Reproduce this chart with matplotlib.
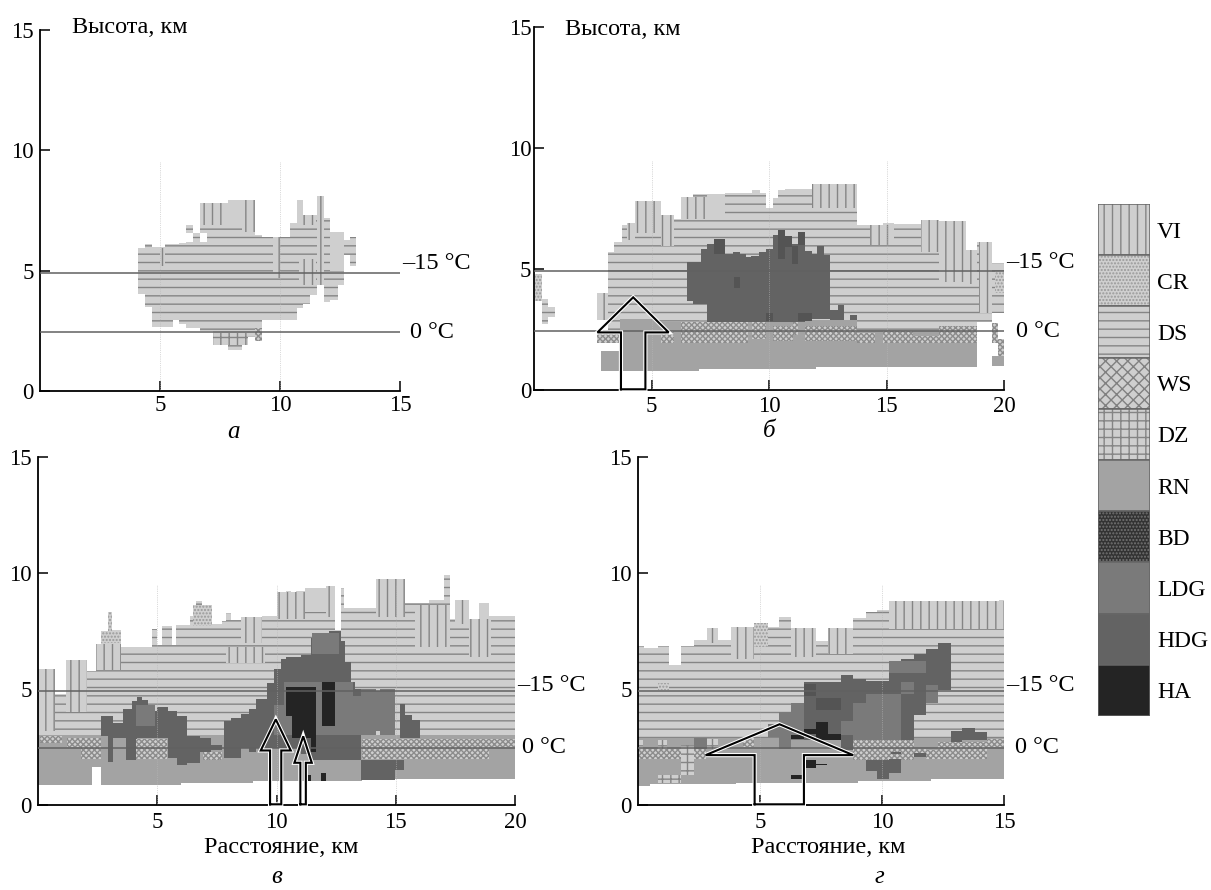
import matplotlib
matplotlib.use("Agg")
import matplotlib.pyplot as plt
import matplotlib.patheffects as pe

plt.rcParams['font.family'] = ['Liberation Serif', 'DejaVu Serif']
plt.rcParams['hatch.linewidth'] = 1.0

CLASS_NAMES = ['VI', 'CR', 'DS', 'WS', 'DZ', 'RN', 'BD', 'LDG', 'HDG', 'HA']
TICKS_15 = [5, 10, 15]
TICKS_20 = [5, 10, 15, 20]
HEIGHT_TICKS = [0, 5, 10, 15]
ISOTHERMS = [4.9, 2.45]

# Each row: distance from, distance to, height from, height to (km)
A_DS = [(4.07,4.38,4.05,5.93),(4.38,4.65,3.47,6.1),(4.65,5.2,2.67,6.0),(5.2,5.53,2.67,6.1),
        (5.53,5.8,2.97,6.1),(5.8,6.1,2.78,6.17),(6.1,6.67,2.6,6.2),(6.67,7.2,2.5,7.8),
        (7.2,7.85,1.9,7.8),(7.85,8.4,1.7,7.93),(8.4,8.68,1.9,7.93),(8.68,8.96,2.25,7.93),
        (8.96,9.26,2.08,6.5),(9.26,9.93,2.97,6.4),(9.93,10.4,2.97,6.38),(10.4,10.7,2.97,6.97),
        (10.7,10.97,3.43,7.93),(10.97,11.25,3.6,7.2),(11.25,11.53,3.98,7.3),(11.53,11.83,4.4,8.1),
        (11.83,12.1,3.7,7.2),(12.1,12.4,3.78,6.6),(12.4,12.67,4.4,6.6),(12.67,12.9,5.65,6.28),
        (12.9,13.15,5.2,6.4),(6.1,6.36,6.55,6.9),(6.36,6.67,6.2,6.55)]
A_BLANK = [(6.67,6.95,6.2,6.55)]
A_VI = [(6.67,7.85,6.9,7.8),(8.4,8.96,6.6,7.93),(10.7,10.97,6.97,7.93),(11.53,11.83,4.4,8.1),
        (9.7,10.0,4.7,6.38),(5.0,5.2,5.2,5.95),(10.97,11.5,6.9,7.3),(10.8,11.5,4.4,5.5)]
A_PLAIN = [(7.85,8.4,6.95,7.93),(12.1,12.67,5.0,6.6)]
A_DZ = [(7.2,8.68,1.9,2.4)]
A_WS = [(8.96,9.26,2.08,2.6)]

B_DS = [(3.17,3.41,2.4,5.72),(3.41,3.73,2.4,6.1),(3.73,3.97,2.4,6.8),(3.97,4.29,2.4,6.9),
        (4.29,5.41,2.4,7.83),(5.41,5.68,2.4,7.07),(5.68,5.97,2.4,7.24),(5.97,6.24,2.4,7.07),
        (6.24,6.45,2.4,7.93),(6.45,6.77,2.4,7.97),(6.77,8.13,2.4,8.08),(8.13,9.28,2.4,8.13),
        (9.28,9.6,2.4,8.25),(9.6,9.86,2.4,8.13),(9.86,10.16,2.4,7.51),(10.16,10.37,2.4,7.94),
        (10.37,10.69,2.4,8.25),(10.69,11.81,2.4,8.31),(11.81,13.25,2.4,8.45),(13.25,13.73,2.4,8.52),
        (13.73,14.85,2.4,6.82),(14.85,15.33,2.4,6.9),(15.33,16.45,2.4,6.86),(16.45,17.25,2.4,7.04),
        (17.25,17.81,2.4,7.0),(17.81,18.13,2.4,6.8),(18.13,18.37,2.4,6.73),(18.37,18.85,2.4,5.8),
        (18.85,19.22,2.8,6.1),(19.22,19.49,2.8,5.66),(19.49,20,3.2,5.25),
        (0.32,0.61,2.72,3.78),(0.61,0.88,3.0,3.41)]
B_VI = [(2.69,3.17,2.9,4.0),(3.97,4.29,6.2,6.9),(4.29,5.41,6.5,7.83),(5.41,5.97,5.95,7.24),
        (6.24,7.36,7.07,7.97),(11.81,13.73,7.5,8.5),(14.29,15.33,6.0,6.82),(16.45,17.25,5.7,7.04),
        (17.25,18.37,4.45,7.0),(18.92,19.5,3.2,6.1),(18.37,18.85,4.4,5.8)]
B_PLAIN = [(7.36,8.13,7.2,8.08)]
B_CR = [(0.05,0.32,3.69,4.79),(19.6,20,4.0,4.9)]
B_RN = [(2.85,4.29,0.8,1.62),(3.65,5.1,1.6,2.95),(4.29,7,0.8,2.8),(7,12,0.87,2.9),(12,13.73,0.95,2.9),
        (13.73,18.85,0.95,2.5),(19.49,20,1.0,1.4)]
B_WS = [(2.69,3.6,1.96,2.37),(5.41,5.97,1.96,2.44),(6.24,9.1,1.96,2.79),(9.28,9.86,2.1,2.79),
        (10.16,11.0,2.03,2.65),(11.0,11.25,2.27,2.79),(11.52,13.73,2.03,2.65),(13.73,14.53,1.96,2.37),
        (14.85,16.13,1.96,2.44),(16.13,17.25,1.96,2.24),(17.25,18.85,1.96,2.65),(19.5,19.75,1.96,2.75),
        (19.75,20,1.4,2.1)]
B_HDG = [(6.53,6.77,3.69,5.3),(6.77,7.09,3.55,5.28),(7.09,7.36,3.55,5.83),(7.36,7.65,2.82,6.04),
         (7.65,8.13,2.82,6.22),(8.13,8.45,2.82,5.62),(8.45,8.77,2.82,5.72),(8.77,9.01,2.82,5.62),
         (9.01,9.25,2.82,5.48),(9.25,9.57,2.82,5.55),(9.57,9.86,2.82,5.72),(9.86,10.16,2.82,5.83),
         (10.16,10.4,2.82,6.41),(10.4,10.69,2.82,6.63),(10.69,10.96,2.82,6.38),(10.96,11.25,2.82,6.04),
         (11.25,11.52,2.82,6.52),(11.52,11.81,2.93,5.76),(11.81,12.05,2.93,5.62),(12.05,12.32,2.93,5.94),
         (12.32,12.61,2.93,5.58),(12.61,12.93,2.9,3.3),(12.93,13.2,2.9,3.51),(13.44,13.73,2.9,3.09)]
B_DARK = [(7.65,8.13,5.62,6.22),(10.4,10.69,5.4,6.6),(10.69,10.96,5.9,6.38),(10.96,11.25,5.2,5.95),
          (11.25,11.52,6.0,6.52),(8.5,8.77,4.2,4.65),(9.86,10.16,2.85,3.2),(11.25,11.81,2.85,3.2)]

C_DS = [(0,.32,2.9,5.87),(.32,.63,2.9,5.36),(.63,1.18,2.9,4.78),(1.18,1.66,2.9,5.66),(1.66,2.05,2.9,6.24),
        (2.05,2.44,2.9,5.77),(2.44,2.65,2.9,6.5),(2.65,2.92,2.9,7.52),(2.92,3.11,2.9,8.31),(3.11,3.5,2.9,7.55),
        (3.5,4.76,2.9,6.82),(4.76,4.97,2.9,7.58),(4.97,5.2,2.9,6.9),(5.2,5.6,2.9,7.7),(5.6,5.8,2.9,6.9),
        (5.8,6.39,2.9,7.74),(6.39,6.62,2.9,8.13),(6.62,6.86,2.9,8.79),(6.86,7.29,2.9,8.35),(7.29,7.73,2.9,7.81),
        (7.73,7.89,2.9,7.92),(7.89,8.08,2.9,8.28),(8.08,8.52,2.9,7.99),(8.52,9.15,2.9,7.87),(9.15,9.38,2.9,8.06),
        (9.38,10.02,2.9,8.16),(10.02,10.17,2.9,8.6),(10.17,10.41,2.9,8.86),(10.41,10.6,2.9,9.23),(10.6,10.8,2.9,8.86),
        (10.8,11.2,2.9,9.23),(11.2,12.07,2.9,9.34),(12.07,12.46,2.9,9.45),(12.46,12.85,2.9,9.34),(12.85,14.16,2.9,8.5),
        (14.16,14.35,2.9,9.49),(14.35,14.98,2.9,9.66),(14.98,15.17,2.9,9.74),(15.17,15.38,2.9,9.33),(15.38,16.4,2.9,8.69),
        (16.4,17.03,2.9,8.82),(17.03,17.27,2.9,9.91),(17.27,17.5,2.9,8.02),(17.5,18.06,2.9,8.82),(18.06,18.49,2.9,8.02),
        (18.49,18.93,2.9,8.69),(18.93,20,2.9,8.16)]
C_BLANK = [(12.46,12.7,7.55,9.4)]
C_VI = [(0,.7,3.2,5.87),(1.18,2.05,4.0,6.24),(2.44,3.5,5.8,6.95),(7.9,9.5,6.1,6.8),(8.52,9.38,7.0,8.1),
        (10.02,11.2,8.0,9.2),(12.07,12.46,8.1,9.45),(14.16,15.38,8.1,9.74),(15.8,17.27,6.8,8.6),
        (17.5,18.06,7.8,8.82),(18.06,19.0,6.4,8.0)]
C_PLAIN = [(11.2,12.07,8.3,9.34),(18.49,18.93,8.2,8.69)]
C_CR = [(2.65,3.5,6.97,7.48),(2.92,3.11,7.48,8.31),(6.5,7.3,7.7,8.6)]
C_RN = [(0,2.25,.85,3.0),(2.25,2.65,1.62,3.0),(2.65,6,.87,3.0),(6,9,.95,3.0),(9,13.6,1.02,3.0),
        (13.6,17,1.1,3.0),(17,20,1.14,3.0)]
C_WS = [(.1,1.0,2.67,2.96),(1.2,1.8,2.5,2.89),(1.8,2.65,2.0,2.89),(3.9,5.4,1.98,2.86),(6.9,7.7,1.94,2.3),
        (13.6,18.9,1.98,2.86),(18.9,20,2.5,2.86)]
C_HDG = [(2.65,2.92,2.96,3.83),(2.92,3.15,1.87,3.83),(3.15,3.55,2.89,3.54),(3.55,3.94,2.89,4.13),(3.7,4.1,1.94,2.89),
         (3.94,4.13,2.86,4.49),(4.13,4.38,2.89,4.66),(4.38,4.61,2.89,4.52),(4.61,4.97,2.89,4.05),(4.97,5.44,2.89,4.23),
         (5.44,5.84,2.01,4.05),(5.84,6.23,1.72,3.83),(6.23,6.78,1.79,2.96),(6.78,7.26,2.3,2.89),(7.26,7.73,2.38,2.59),
         (7.81,8.08,2.04,3.62),(8.08,8.52,2.01,3.76),(8.52,8.83,2.45,3.91),(8.83,9.15,2.3,4.13),(9.15,9.62,2.45,4.56),
         (9.62,9.9,2.45,5.25),(9.9,10.17,2.45,5.87),(10.17,10.41,2.45,6.31),(10.41,11.04,2.45,6.38),(11.04,11.43,2.2,6.46),
         (11.43,11.9,1.94,7.19),(11.9,12.2,1.94,6.9),(12.2,12.7,1.94,7.48),(12.7,12.87,1.94,7.08),(12.87,13.14,1.94,6.17),
         (13.14,13.3,1.94,5.29),(13.3,13.55,1.94,5.0),(15.17,15.38,2.89,4.35),(15.38,15.7,2.89,3.87),(15.7,16.0,2.89,3.65),
         (13.55,14.98,1.06,1.94),(14.98,15.35,1.5,1.94)]
C_LDG = [(11.5,12.6,6.5,7.4),(10.3,13.2,4.7,5.3),(10.3,13.55,3.0,4.7),(13.55,14.16,3.0,5.0),(14.16,14.35,3.2,4.9),
         (14.35,14.98,3.0,5.0),(9.9,10.4,3.0,4.3),(4.1,4.9,3.4,4.3)]
C_HA = [(10.41,10.65,3.83,5.07),(10.65,11.64,2.89,5.07),(11.43,11.64,2.27,2.96),(11.91,12.46,3.4,5.29),
        (11.3,11.44,1.03,1.31),(11.88,12.07,1.03,1.4)]

D_DS = [(0,.26,2.45,6.86),(.26,.8,2.45,6.78),(.8,1.28,2.45,6.86),(1.28,1.76,2.45,6.03),(1.76,2.31,2.45,6.86),
        (2.31,2.81,2.45,7.1),(2.81,3.26,2.45,7.62),(3.26,3.81,2.45,7.1),(3.81,4.31,2.45,7.19),(4.31,4.76,2.45,7.68),
        (4.76,5.31,2.45,7.83),(5.31,5.78,2.45,7.68),(5.78,6.29,2.45,8.09),(6.29,6.81,2.45,7.62),(6.81,7.28,2.45,7.43),
        (7.28,7.8,2.45,7.07),(7.8,8.31,2.45,7.51),(8.31,8.81,2.45,7.62),(8.81,9.33,2.45,8.06),(9.33,9.81,2.45,8.3),
        (9.81,10.76,2.45,8.41),(10.76,11.79,2.45,8.52),(11.79,13.29,2.45,8.59),(13.29,14.79,2.45,8.74),(14.79,15,2.45,8.84)]
D_VI = [(2.81,3.26,7.0,7.62),(3.81,4.76,6.3,7.68),(6.29,7.28,6.4,7.62),(7.8,8.81,6.5,7.62),(10.29,15,7.6,8.8)]
D_CR = [(4.76,5.31,6.8,7.83),(.8,1.28,4.95,5.25)]
D_RN = [(0,.5,.84,2.9),(.5,4,.92,2.9),(4,9,.96,2.9),(9,12,1.03,2.9),(12,15,1.1,2.9)]
D_WS = [(0,2.77,1.97,2.41),(4.31,4.76,2.51,2.87),(8.81,11.31,1.93,2.8),(11.31,11.79,2.07,2.43),
        (11.79,12.31,2.0,2.36),(12.31,14.31,1.97,2.72),(14.31,15,2.51,2.84)]
D_DZ = [(0,.2,2.4,2.8),(.8,1.2,2.4,2.8),(1.76,2.3,1.28,2.58),(.8,1.76,.96,1.28),(2.81,3.26,2.43,2.83)]
D_HDG = [(6.81,8.31,2.8,5.3),(8.31,8.81,2.36,5.59),(8.81,9.33,2.8,5.41),(9.33,10.29,2.8,5.33),(10.29,10.76,2.8,6.2),
         (10.76,11.31,2.8,6.3),(11.31,11.79,3.88,6.52),(11.79,12.31,4.39,6.71),(12.31,12.81,4.97,7.0),
         (9.33,9.81,1.46,1.93),(9.81,10.29,1.13,1.93),(10.29,10.76,1.38,2.0),(11.31,11.79,2.07,2.25),(10.35,10.76,2.2,2.27),
         (12.81,13.29,2.72,3.19),(13.29,13.81,2.8,3.3),(13.81,14.31,2.8,3.16)]
D_LDG = [(2.31,2.81,2.43,2.87),(5.31,5.78,2.94,3.48),(5.78,6.29,2.43,3.99),(6.29,6.81,2.8,4.39),(8.81,10.76,2.8,4.39),
         (9.33,10.76,4.39,4.8),(10.76,11.31,4.8,5.3),(10.29,11.8,5.7,6.2),(11.79,12.31,4.39,5.19),(8.31,8.81,3.0,3.6)]
D_DARK = [(6.81,7.3,4.7,5.2),(7.3,8.31,4.1,4.6)]
D_HA = [(6.81,7.28,3.04,3.28),(7.28,7.8,2.8,3.59),(7.8,8.31,2.8,3.06),(6.29,6.81,2.83,3.01),
        (6.84,7.28,1.59,1.93),(7.28,7.75,1.71,1.77),(6.29,6.71,1.1,1.28)]

# Arrows: shaft left, shaft right, head left, head right, tip distance, tip height, head base height
B_ARROWS = [(3.7, 4.74, 2.7, 5.73, 4.22, 3.83, 2.38)]
C_ARROWS = [(9.73, 10.2, 9.34, 10.6, 9.97, 3.69, 2.35), (11.0, 11.23, 10.75, 11.48, 11.12, 2.96, 1.82)]
D_ARROWS = [(4.78, 6.8, 2.77, 8.82, 5.8, 3.48, 2.15)]

LIGHT = '0.81'
HATCH = '0.52'
STYLE = {
    'BLANK': ('white', None, 'white'),
    'PLAIN': (LIGHT, None, LIGHT),
    'VI': (LIGHT, '||', HATCH),
    'CR': (LIGHT, '.....', '0.6'),
    'DS': (LIGHT, '--', HATCH),
    'WS': (LIGHT, 'xxx', '0.5'),
    'WSFINE': (LIGHT, 'xxxxxx', '0.55'),
    'DZ': (LIGHT, '++', HATCH),
    'RN': ('0.64', None, '0.64'),
    'BD': ('0.2', '.....', '0.45'),
    'LDG': ('0.48', None, '0.48'),
    'HDG': ('0.39', None, '0.39'),
    'DARK': ('0.33', None, '0.33'),
    'HA': ('0.14', None, '0.14'),
}

W, H = 1211, 890
fig = plt.figure(figsize=(W / 100, H / 100), dpi=100)


def make_axes(left, right, bottom, top):
    return fig.add_axes([left / W, 1 - bottom / H, (right - left) / W, (bottom - top) / H])


def rows(ax, name, data):
    face, hatch, edge = STYLE[name]
    for x0, x1, lo, hi in data:
        ax.fill_between([x0, x1], [lo, lo], [hi, hi], facecolor=face, edgecolor=edge,
                        hatch=hatch, linewidth=0, antialiased=False, zorder=2)


def finish(ax, xmax, xticks, layers, arrows, label15, label0, xpad, ypad):
    for name, data in layers:
        rows(ax, name, data)
    ax.set_xlim(0, xmax)
    ax.set_ylim(0, 15)
    ax.set_xticks(xticks)
    ax.set_yticks(HEIGHT_TICKS)
    ax.tick_params(direction='in', length=7.5, width=1.1, labelsize=16.5)
    ax.tick_params(axis='x', pad=xpad)
    ax.tick_params(axis='y', pad=ypad)
    for side in ('top', 'right'):
        ax.spines[side].set_visible(False)
    for side in ('left', 'bottom'):
        ax.spines[side].set_linewidth(1.3)
    for x in xticks[:-1]:
        ax.plot([x, x], [0, 9.5], color='0.72', lw=0.5, ls=':', zorder=3)
    for y in ISOTHERMS:
        ax.plot([0, xmax], [y, y], color='0.38', lw=1.1, zorder=4)
    for sl, sr, hl, hr, tx, ty, hb in arrows:
        px = [sl, sl, hl, tx, hr, sr, sr, sl]
        py = [0.03, hb, hb, ty, hb, hb, 0.03, 0.03]
        ax.plot(px, py, color='black', lw=1.5, zorder=6, solid_joinstyle='miter', clip_on=False,
                path_effects=[pe.withStroke(linewidth=3, foreground='white')])
    ax.text(label15[0], label15[1], '–15 °C', fontsize=17.5, ha='left', va='center', clip_on=False)
    ax.text(label0[0], label0[1], '0 °C', fontsize=17.5, ha='left', va='center', clip_on=False)


ax_a = make_axes(40, 400, 391, 30)
finish(ax_a, 15, TICKS_15,
       [('DS', A_DS), ('BLANK', A_BLANK), ('VI', A_VI), ('PLAIN', A_PLAIN), ('DZ', A_DZ), ('WSFINE', A_WS)],
       [], (15.1, 5.28), (15.4, 2.41), 3, 4.5)
ax_a.text(1.33, 15.1, 'Высота, км', fontsize=17.5, ha='left', va='center')
ax_a.text(8.08, -1.7, 'а', fontsize=18, style='italic', ha='center', va='center')

ax_b = make_axes(534, 1004, 390, 27)
finish(ax_b, 20, TICKS_20,
       [('DS', B_DS), ('VI', B_VI), ('PLAIN', B_PLAIN), ('CR', B_CR), ('RN', B_RN), ('WSFINE', B_WS),
        ('HDG', B_HDG), ('DARK', B_DARK)],
       B_ARROWS, (20.08, 5.25), (20.5, 2.4), 4, 2)
ax_b.text(1.32, 14.9, 'Высота, км', fontsize=17.5, ha='left', va='center', clip_on=False)
ax_b.text(10, -1.7, 'б', fontsize=18, style='italic', ha='center', va='center')

ax_c = make_axes(38, 515, 805, 457)
finish(ax_c, 20, TICKS_20,
       [('DS', C_DS), ('BLANK', C_BLANK), ('VI', C_VI), ('PLAIN', C_PLAIN), ('CR', C_CR), ('RN', C_RN),
        ('WSFINE', C_WS), ('HDG', C_HDG), ('LDG', C_LDG), ('HA', C_HA)],
       C_ARROWS, (20.08, 5.13), (20.3, 2.46), 5, 4.5)
ax_c.text(10.2, -1.85, 'Расстояние, км', fontsize=17.5, ha='center', va='center')
ax_c.text(10, -3.1, 'в', fontsize=18, style='italic', ha='center', va='center')

ax_d = make_axes(638, 1004, 805, 457)
finish(ax_d, 15, TICKS_15,
       [('DS', D_DS), ('VI', D_VI), ('CR', D_CR), ('RN', D_RN), ('WSFINE', D_WS), ('DZ', D_DZ),
        ('HDG', D_HDG), ('LDG', D_LDG), ('DARK', D_DARK), ('HA', D_HA)],
       D_ARROWS, (15.08, 5.13), (15.45, 2.46), 5, 4.5)
ax_d.text(7.8, -1.85, 'Расстояние, км', fontsize=17.5, ha='center', va='center')
ax_d.text(9.9, -3.1, 'г', fontsize=18, style='italic', ha='center', va='center')

ax_leg = make_axes(1098, 1150, 716, 204)
for i, name in enumerate(CLASS_NAMES):
    face, hatch, edge = STYLE[name]
    ax_leg.bar(0, 1, bottom=i, width=1, align='edge', facecolor=face, edgecolor=edge, hatch=hatch, linewidth=0)
    ax_leg.bar(0, 1, bottom=i, width=1, align='edge', fill=False, edgecolor='0.4', linewidth=1.1)
ax_leg.set_xlim(0, 1)
ax_leg.set_ylim(len(CLASS_NAMES), 0)
ax_leg.set_xticks([])
ax_leg.set_yticks([i + 0.5 for i in range(len(CLASS_NAMES))], CLASS_NAMES, fontsize=17)
ax_leg.yaxis.tick_right()
ax_leg.tick_params(axis='y', length=0, pad=5)
for s in ax_leg.spines.values():
    s.set_visible(False)

fig.savefig('out.png', dpi=100)
